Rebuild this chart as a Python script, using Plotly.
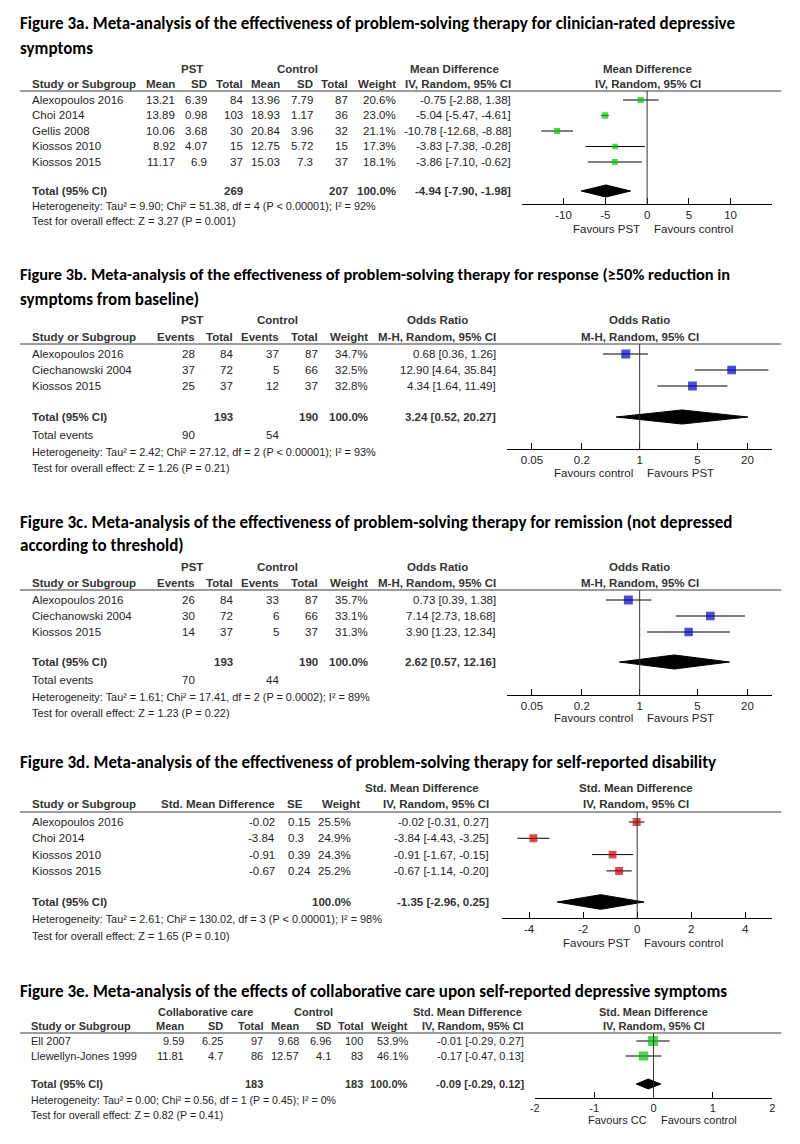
import plotly.graph_objects as go

W, H = 800, 1144
OFF = 8  # the page body margin that offsets the figure

# ---------------- DATA ----------------
# Figure 3a
a_studies = ["Alexopoulos 2016", "Choi 2014", "Gellis 2008", "Kiossos 2010", "Kiossos 2015"]
a_pst_mean = [13.21, 13.89, 10.06, 8.92, 11.17]
a_pst_sd = [6.39, 0.98, 3.68, 4.07, 6.9]
a_pst_n = [84, 103, 30, 15, 37]
a_ctl_mean = [13.96, 18.93, 20.84, 12.75, 15.03]
a_ctl_sd = [7.79, 1.17, 3.96, 5.72, 7.3]
a_ctl_n = [87, 36, 32, 15, 37]
a_weight = [20.6, 23.0, 21.1, 17.3, 18.1]
a_est = [-0.75, -5.04, -10.78, -3.83, -3.86]
a_lo = [-2.88, -5.47, -12.68, -7.38, -7.10]
a_hi = [1.38, -4.61, -8.88, -0.28, -0.62]
a_total = [269, 207]
a_pooled = [-4.94, -7.90, -1.98]
a_het = "Heterogeneity: Tau² = 9.90; Chi² = 51.38, df = 4 (P < 0.00001); I² = 92%"
a_test = "Test for overall effect: Z = 3.27 (P = 0.001)"
a_ticks = [-10, -5, 0, 5, 10]

# Figure 3b
b_studies = ["Alexopoulos 2016", "Ciechanowski 2004", "Kiossos 2015"]
b_pst_ev = [28, 37, 25]
b_pst_n = [84, 72, 37]
b_ctl_ev = [37, 5, 12]
b_ctl_n = [87, 66, 37]
b_weight = [34.7, 32.5, 32.8]
b_est = [0.68, 12.90, 4.34]
b_lo = [0.36, 4.64, 1.64]
b_hi = [1.26, 35.84, 11.49]
b_total = [193, 190]
b_events = [90, 54]
b_pooled = [3.24, 0.52, 20.27]
b_het = "Heterogeneity: Tau² = 2.42; Chi² = 27.12, df = 2 (P < 0.00001); I² = 93%"
b_test = "Test for overall effect: Z = 1.26 (P = 0.21)"

# Figure 3c
c_studies = ["Alexopoulos 2016", "Ciechanowski 2004", "Kiossos 2015"]
c_pst_ev = [26, 30, 14]
c_pst_n = [84, 72, 37]
c_ctl_ev = [33, 6, 5]
c_ctl_n = [87, 66, 37]
c_weight = [35.7, 33.1, 31.3]
c_est = [0.73, 7.14, 3.90]
c_lo = [0.39, 2.73, 1.23]
c_hi = [1.38, 18.68, 12.34]
c_total = [193, 190]
c_events = [70, 44]
c_pooled = [2.62, 0.57, 12.16]
c_het = "Heterogeneity: Tau² = 1.61; Chi² = 17.41, df = 2 (P = 0.0002); I² = 89%"
c_test = "Test for overall effect: Z = 1.23 (P = 0.22)"
or_ticks = [0.05, 0.2, 1, 5, 20]

# Figure 3d
d_studies = ["Alexopoulos 2016", "Choi 2014", "Kiossos 2010", "Kiossos 2015"]
d_smd = [-0.02, -3.84, -0.91, -0.67]
d_se = [0.15, 0.3, 0.39, 0.24]
d_weight = [25.5, 24.9, 24.3, 25.2]
d_lo = [-0.31, -4.43, -1.67, -1.14]
d_hi = [0.27, -3.25, -0.15, -0.20]
d_pooled = [-1.35, -2.96, 0.25]
d_het = "Heterogeneity: Tau² = 2.61; Chi² = 130.02, df = 3 (P < 0.00001); I² = 98%"
d_test = "Test for overall effect: Z = 1.65 (P = 0.10)"
d_ticks = [-4, -2, 0, 2, 4]

# Figure 3e
e_studies = ["Ell 2007", "Llewellyn-Jones 1999"]
e_cc_mean = [9.59, 11.81]
e_cc_sd = [6.25, 4.7]
e_cc_n = [97, 86]
e_ctl_mean = [9.68, 12.57]
e_ctl_sd = [6.96, 4.1]
e_ctl_n = [100, 83]
e_weight = [53.9, 46.1]
e_est = [-0.01, -0.17]
e_lo = [-0.29, -0.47]
e_hi = [0.27, 0.13]
e_total = [183, 183]
e_pooled = [-0.09, -0.29, 0.12]
e_het = "Heterogeneity: Tau² = 0.00; Chi² = 0.56, df = 1 (P = 0.45); I² = 0%"
e_test = "Test for overall effect: Z = 0.82 (P = 0.41)"
e_ticks = [-2, -1, 0, 1, 2]

titles = [
    ["Figure 3a. Meta-analysis of the effectiveness of problem-solving therapy for clinician-rated depressive", "symptoms"],
    ["Figure 3b. Meta-analysis of the effectiveness of problem-solving therapy for response (≥50% reduction in", "symptoms from baseline)"],
    ["Figure 3c. Meta-analysis of the effectiveness of problem-solving therapy for remission (not depressed", "according to threshold)"],
    ["Figure 3d. Meta-analysis of the effectiveness of problem-solving therapy for self-reported disability"],
    ["Figure 3e. Meta-analysis of the effects of collaborative care upon self-reported depressive symptoms"],
]

# ---------------- STYLE / HELPERS ----------------
TXT = "#1e1e1e"
HDR = "#333333"
FONT = "Liberation Sans, Arial, sans-serif"
TFONT = "Carlito, Calibri, Lato, sans-serif"
FOOT = 10.9

annotations = []
shapes = []
traces = []
layout_axes = {}


def px(x):
    return (x - OFF) / W


def py(y):
    return 1 - (y - OFF) / H


def text(x, y, s, anchor="left", size=11.5, bold=False, color=TXT, family=FONT):
    if bold:
        s = "<b>" + s + "</b>"
    annotations.append(dict(x=px(x), y=py(y), xref="paper", yref="paper", text=s,
                            showarrow=False, xanchor=anchor, yanchor="middle",
                            borderpad=0,
                            font=dict(size=size, color=color, family=family)))


def g(v):
    return f"{v:g}"


def ci(e, l, h):
    return f"{e:.2f} [{l:.2f}, {h:.2f}]"


def hline(y, x0=15, x1=784):
    shapes.append(dict(type="line", xref="paper", yref="paper", x0=px(x0), x1=px(x1),
                       y0=py(y), y1=py(y), line=dict(color="#3a3a3a", width=1)))


def title(lines, ys, sizes=None):
    sizes = sizes or [17] * len(lines)
    for s, y, sz in zip(lines, ys, sizes):
        text(14, y, s, size=sz, bold=True, color="#000000", family=TFONT)


def forest(k, est, lo, hi, pooled, weights, color, msize, geo, log=False,
           ticks=None, favl="", favr="", tick_size=11.5, fav_size=11.5):
    row0, pitch = geo["row0"], geo["pitch"]
    ytop = (geo["line"] - row0) / pitch
    ybot = (geo["axis"] - row0) / pitch
    ytot = (geo["total"] - row0) / pitch
    dh = geo["dh"]
    rows = list(range(len(est)))
    wmax = max(weights)
    sizes = [msize * (w / wmax) ** 0.5 for w in weights]
    suf = "" if k == 1 else str(k)
    xa, ya = "x" + suf, "y" + suf
    traces.append(go.Scatter(
        x=est, y=rows, mode="markers", xaxis=xa, yaxis=ya,
        marker=dict(symbol="square", size=sizes, color=color, line=dict(width=0)),
        error_x=dict(type="data", symmetric=False,
                     array=[h - e for e, h in zip(est, hi)],
                     arrayminus=[e - l for e, l in zip(est, lo)],
                     width=0, thickness=1, color="#000000"),
        showlegend=False, hoverinfo="skip"))
    pe, pl, ph = pooled
    traces.append(go.Scatter(
        x=[pl, pe, ph, pe, pl], y=[ytot, ytot - dh, ytot, ytot + dh, ytot],
        mode="lines", fill="toself", fillcolor="#000000",
        line=dict(color="#000000", width=1), xaxis=xa, yaxis=ya,
        showlegend=False, hoverinfo="skip"))
    null = 1 if log else 0
    shapes.append(dict(type="line", xref=xa, yref=ya + " domain", x0=null, x1=null,
                       y0=0, y1=1, line=dict(color="#333333", width=1)))
    xr = geo["xrange"]
    ax = dict(domain=[px(geo["xdom"][0]), px(geo["xdom"][1])], anchor=ya,
              showgrid=False, zeroline=False, showline=True, linecolor="#000000",
              linewidth=1, ticks="inside", ticklen=6, tickcolor="#000000",
              tickvals=ticks, ticktext=[g(t) for t in ticks],
              tickfont=dict(size=tick_size, color=TXT, family=FONT), fixedrange=True)
    if log:
        ax.update(type="log", range=xr)
    else:
        ax.update(range=xr)
    layout_axes["xaxis" + suf] = ax
    layout_axes["yaxis" + suf] = dict(
        domain=[py(geo["axis"]), py(geo["line"])], range=[ybot, ytop], anchor=xa,
        visible=False, fixedrange=True)
    for s, anc, sh in ((favl, "right", -5), (favr, "left", 5)):
        annotations.append(dict(x=0, y=py(geo["fav"]), xref=xa, yref="paper", text=s,
                                showarrow=False, xanchor=anc, yanchor="middle", xshift=sh,
                                font=dict(size=fav_size, color=TXT, family=FONT)))


# ---------------- PANEL A ----------------
GA = dict(row0=100, pitch=15.5, line=91, axis=204, total=191, dh=0.39, fav=229,
          xdom=(522, 775), xrange=[-15, 15])
title(titles[0], [23, 48])
text(189, 69, "PST", "center", bold=True, color=HDR)
text(295, 69, "Control", "center", bold=True, color=HDR)
text(454, 69, "Mean Difference", "center", bold=True, color=HDR)
text(649, 69, "Mean Difference", "center", bold=True, color=HDR)
text(26, 84, "Study or Subgroup", bold=True, color=HDR)
for x, s in ((173, "Mean"), (205, "SD"), (241, "Total"), (279, "Mean"), (312, "SD"),
             (347, "Total"), (396, "Weight"), (512, "IV, Random, 95% CI")):
    text(x, 84, s, "right", bold=True, color=HDR)
text(649, 84, "IV, Random, 95% CI", "center", bold=True, color=HDR)
hline(91)
for i in range(len(a_studies)):
    y = GA["row0"] + i * GA["pitch"]
    text(26, y, a_studies[i])
    for x, s in ((173, f"{a_pst_mean[i]:.2f}"), (205, g(a_pst_sd[i])), (241, str(a_pst_n[i])),
                 (279, f"{a_ctl_mean[i]:.2f}"), (312, g(a_ctl_sd[i])), (347, str(a_ctl_n[i])),
                 (396, f"{a_weight[i]:.1f}%"), (512, ci(a_est[i], a_lo[i], a_hi[i]))):
        text(x, y, s, "right")
text(26, 191, "Total (95% CI)", bold=True, color=HDR)
text(241, 191, str(a_total[0]), "right", bold=True, color=HDR)
text(347, 191, str(a_total[1]), "right", bold=True, color=HDR)
text(396, 191, "100.0%", "right", bold=True, color=HDR)
text(512, 191, ci(*a_pooled), "right", bold=True, color=HDR)
text(26, 206, a_het, size=FOOT)
text(26, 221, a_test, size=FOOT)
forest(1, a_est, a_lo, a_hi, a_pooled, a_weight, "#00C800", 6.5, GA, ticks=a_ticks,
       favl="Favours PST", favr="Favours control")


# ---------------- PANELS B & C ----------------
def or_panel(k, geo, tl, tys, tsz, studies, pe, pn, ce, cn, wt, est, lo, hi, tot, ev, pooled, het, test):
    title(tl, tys, tsz)
    grp, hdr = geo["grp"], geo["hdr"]
    text(189, grp, "PST", "center", bold=True, color=HDR)
    text(275, grp, "Control", "center", bold=True, color=HDR)
    text(437, grp, "Odds Ratio", "center", bold=True, color=HDR)
    text(641, grp, "Odds Ratio", "center", bold=True, color=HDR)
    text(26, hdr, "Study or Subgroup", bold=True, color=HDR)
    for x, s in ((193, "Events"), (231, "Total"), (278, "Events"), (317, "Total"),
                 (368, "Weight"), (497, "M-H, Random, 95% CI")):
        text(x, hdr, s, "right", bold=True, color=HDR)
    text(641, hdr, "M-H, Random, 95% CI", "center", bold=True, color=HDR)
    hline(geo["line"])
    for i in range(len(studies)):
        y = geo["row0"] + i * geo["pitch"]
        text(26, y, studies[i])
        for x, s in ((193, str(pe[i])), (231, str(pn[i])), (278, str(ce[i])), (317, str(cn[i])),
                     (368, f"{wt[i]:.1f}%"), (497, ci(est[i], lo[i], hi[i]))):
            text(x, y, s, "right")
    yt = geo["total"]
    text(26, yt, "Total (95% CI)", bold=True, color=HDR)
    text(231, yt, str(tot[0]), "right", bold=True, color=HDR)
    text(317, yt, str(tot[1]), "right", bold=True, color=HDR)
    text(368, yt, "100.0%", "right", bold=True, color=HDR)
    text(497, yt, ci(*pooled), "right", bold=True, color=HDR)
    text(26, geo["events"], "Total events")
    text(193, geo["events"], str(ev[0]), "right")
    text(278, geo["events"], str(ev[1]), "right")
    text(26, geo["het"], het, size=FOOT)
    text(26, geo["test"], test, size=FOOT)
    forest(k, est, lo, hi, pooled, wt, "#0000C8", 9, geo, log=True, ticks=or_ticks,
           favl="Favours control", favr="Favours PST")


GB = dict(row0=354, pitch=16, line=344, axis=449, total=417, events=435, het=452, test=468,
          grp=320, hdr=337, dh=0.44, fav=473, xdom=(507, 775), xrange=[-1.602, 1.602])
or_panel(2, GB, titles[1], [274, 299], [16.4, 17], b_studies, b_pst_ev, b_pst_n, b_ctl_ev, b_ctl_n,
         b_weight, b_est, b_lo, b_hi, b_total, b_events, b_pooled, b_het, b_test)
GC = dict(row0=600, pitch=16, line=590, axis=695, total=662, events=680, het=697, test=713,
          grp=567, hdr=583, dh=0.44, fav=718, xdom=(507, 775), xrange=[-1.602, 1.602])
or_panel(3, GC, titles[2], [522, 545], [17, 17], c_studies, c_pst_ev, c_pst_n, c_ctl_ev, c_ctl_n,
         c_weight, c_est, c_lo, c_hi, c_total, c_events, c_pooled, c_het, c_test)

# ---------------- PANEL D ----------------
GD = dict(row0=822, pitch=16.3, line=812, axis=918, total=902, dh=0.45, fav=943,
          xdom=(502, 775), xrange=[-5, 5])
title(titles[3], [762])
text(421, 788, "Std. Mean Difference", "center", bold=True, color=HDR)
text(637, 788, "Std. Mean Difference", "center", bold=True, color=HDR)
text(26, 804, "Study or Subgroup", bold=True, color=HDR)
for x, s in ((274, "Std. Mean Difference"), (302, "SE"), (360, "Weight"), (490, "IV, Random, 95% CI")):
    text(x, 804, s, "right", bold=True, color=HDR)
text(637, 804, "IV, Random, 95% CI", "center", bold=True, color=HDR)
hline(812)
for i in range(len(d_studies)):
    y = GD["row0"] + i * GD["pitch"]
    text(26, y, d_studies[i])
    text(274, y, f"{d_smd[i]:.2f}", "right")
    text(285, y, g(d_se[i]), "left")
    text(350, y, f"{d_weight[i]:.1f}%", "right")
    text(490, y, ci(d_smd[i], d_lo[i], d_hi[i]), "right")
text(26, 902, "Total (95% CI)", bold=True, color=HDR)
text(350, 902, "100.0%", "right", bold=True, color=HDR)
text(490, 902, ci(*d_pooled), "right", bold=True, color=HDR)
text(26, 919, d_het, size=FOOT)
text(26, 936, d_test, size=FOOT)
forest(4, d_smd, d_lo, d_hi, d_pooled, d_weight, "#C80000", 8, GD, ticks=d_ticks,
       favl="Favours PST", favr="Favours control")

# ---------------- PANEL E ----------------
GE = dict(row0=1041, pitch=15, line=1033, axis=1098, total=1084, dh=0.33, fav=1120,
          xdom=(535, 775), xrange=[-2, 2])
title(titles[4], [991])
SE_ = 11
text(202, 1012, "Collaborative care", "center", size=SE_, bold=True, color=HDR)
text(312, 1012, "Control", "center", size=SE_, bold=True, color=HDR)
text(467, 1012, "Std. Mean Difference", "center", size=SE_, bold=True, color=HDR)
text(655, 1012, "Std. Mean Difference", "center", size=SE_, bold=True, color=HDR)
text(25, 1026, "Study or Subgroup", size=SE_, bold=True, color=HDR)
for x, s in ((182, "Mean"), (221, "SD"), (262, "Total"), (298, "Mean"), (330, "SD"),
             (363, "Total"), (408, "Weight"), (525, "IV, Random, 95% CI")):
    text(x, 1026, s, "right", size=SE_, bold=True, color=HDR)
text(655, 1026, "IV, Random, 95% CI", "center", size=SE_, bold=True, color=HDR)
hline(1033)
for i in range(len(e_studies)):
    y = GE["row0"] + i * GE["pitch"]
    text(25, y, e_studies[i], size=SE_)
    for x, s in ((182, f"{e_cc_mean[i]:.2f}"), (221, g(e_cc_sd[i])), (262, str(e_cc_n[i])),
                 (298, f"{e_ctl_mean[i]:.2f}"), (330, g(e_ctl_sd[i])), (363, str(e_ctl_n[i])),
                 (408, f"{e_weight[i]:.1f}%"), (525, ci(e_est[i], e_lo[i], e_hi[i]))):
        text(x, y, s, "right", size=SE_)
text(25, 1084, "Total (95% CI)", size=SE_, bold=True, color=HDR)
text(262, 1084, str(e_total[0]), "right", size=SE_, bold=True, color=HDR)
text(363, 1084, str(e_total[1]), "right", size=SE_, bold=True, color=HDR)
text(408, 1084, "100.0%", "right", size=SE_, bold=True, color=HDR)
text(525, 1084, ci(*e_pooled), "right", size=SE_, bold=True, color=HDR)
text(25, 1100, e_het, size=10.6)
text(25, 1115, e_test, size=10.6)
forest(5, e_est, e_lo, e_hi, e_pooled, e_weight, "#00C800", 10, GE, ticks=e_ticks,
       favl="Favours CC", favr="Favours control", tick_size=11, fav_size=11)

# ---------------- FIGURE ----------------
fig = go.Figure(data=traces)
fig.update_layout(width=W, height=H, margin=dict(l=0, r=0, t=0, b=0),
                  paper_bgcolor="white", plot_bgcolor="rgba(0,0,0,0)",
                  showlegend=False, hovermode=False,
                  annotations=annotations, shapes=shapes, **layout_axes)
fig.write_html("out.html")
